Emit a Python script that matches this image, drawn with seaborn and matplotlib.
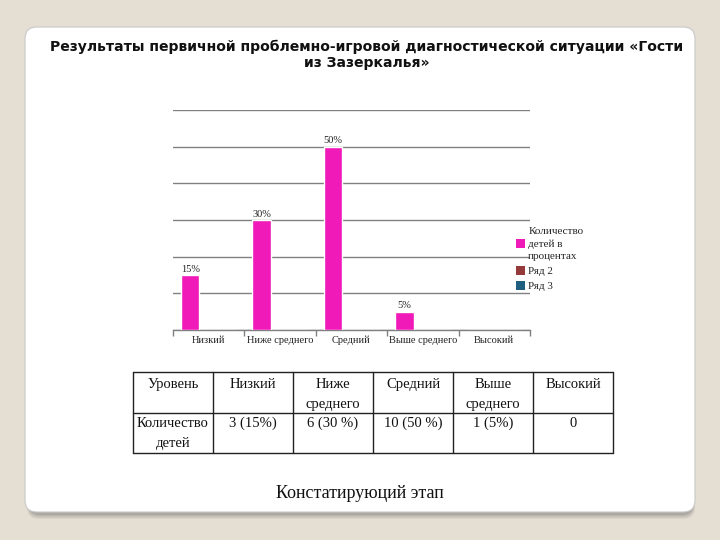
import matplotlib
matplotlib.use("Agg")
import matplotlib.pyplot as plt
import seaborn as sns
import pandas as pd
import numpy as np
from matplotlib.patches import FancyBboxPatch, Patch

# ---- data ----
categories = ['Низкий', 'Ниже среднего', 'Средний', 'Выше среднего', 'Высокий']
series_names = ['Количество\nдетей в\nпроцентах', 'Ряд 2', 'Ряд 3']
series1 = [15, 30, 50, 5, 0]
series2 = [0, 0, 0, 0, 0]
series3 = [0, 0, 0, 0, 0]
series_colors = ['#F01AB8', '#953A3A', '#1F5F80']

table_header = ['Уровень', 'Низкий', 'Ниже\nсреднего', 'Средний', 'Выше\nсреднего', 'Высокий']
table_row = ['Количество\nдетей', '3 (15%)', '6 (30 %)', '10 (50 %)', '1 (5%)', '0']

title = 'Результаты первичной проблемно-игровой диагностической ситуации «Гости\nиз Зазеркалья»'
footer = 'Констатируюций этап'

rows = []
for name, vals in zip(series_names, [series1, series2, series3]):
    for c, v in zip(categories, vals):
        rows.append({'cat': c, 'val': v, 'series': name})
df = pd.DataFrame(rows)

sns.set_theme(style='white')
plt.rcParams['font.family'] = ['DejaVu Sans']

W, H = 720, 540
fig = plt.figure(figsize=(7.2, 5.4), dpi=100)
fig.patch.set_facecolor('#E4DED3')

# card with shadow
def px_box(x0, y0_top, x1, y1_top, **kw):
    return FancyBboxPatch((x0 / 100, (H - y1_top) / 100), (x1 - x0) / 100, (y1_top - y0_top) / 100,
                          boxstyle='round,pad=0,rounding_size=0.12',
                          transform=fig.dpi_scale_trans, zorder=-10, **kw)

for k, a in enumerate([0.10, 0.12, 0.16, 0.22]):
    off = 7 - k * 1.3
    fig.patches.append(px_box(27 + k * 0.5, 30, 695 - k * 0.5, 512 + off, facecolor='#707070',
                              edgecolor='none', alpha=a))
fig.patches.append(px_box(25, 27, 695, 512, facecolor='white', edgecolor='#C9C9C9', linewidth=0.8))

# title
fig.text(367 / W, 1 - 55 / H, title, ha='center', va='center', fontsize=10.1, fontweight='bold',
         family='DejaVu Sans', linespacing=1.2, color='#111111')

# chart
ax = fig.add_axes([173 / W, 1 - 330 / H, (530 - 173) / W, (330 - 110) / H])
ax.set_facecolor('none')
sns.barplot(data=df, x='cat', y='val', hue='series', palette=series_colors, width=0.776,
            gap=0, dodge=True, ax=ax, legend=False, saturation=1, zorder=3)
ax.set_xlim(-0.5, 4.5)
ax.set_ylim(0, 60)
ax.set_yticks(np.arange(0, 61, 10))
ax.set_yticklabels([])
ax.tick_params(axis='y', length=0)
ax.grid(axis='y', color='#808080', linewidth=1)
ax.set_axisbelow(True)
for s in ['left', 'right', 'top']:
    ax.spines[s].set_visible(False)
ax.spines['bottom'].set_color('#808080')
ax.spines['bottom'].set_linewidth(1)
ax.set_xlabel('')
ax.set_ylabel('')
ax.set_xticks(range(len(categories)))
ax.set_xticklabels(categories, family='Liberation Serif', fontsize=7.5, color='#222222')
ax.tick_params(axis='x', which='major', length=0, pad=4)
ax.set_xticks(np.arange(-0.5, 4.6, 1), minor=True)
ax.tick_params(axis='x', which='minor', bottom=True, length=4, color='#808080', width=1)

labels = [f'{v}%' if v else '' for v in series1]
ax.bar_label(ax.containers[0], labels=labels, padding=1, fontsize=7.5,
             family='Liberation Serif', color='#222222')

handles = [Patch(facecolor=c, edgecolor='none') for c in series_colors]
leg = fig.legend(handles, series_names, loc='upper left', bbox_to_anchor=(516 / W, 1 - 227 / H),
                 frameon=False, prop={'family': 'Liberation Serif', 'size': 8},
                 handlelength=0.8, handleheight=0.8, handletextpad=0.3, labelspacing=0.45,
                 borderpad=0, borderaxespad=0)
for t in leg.get_texts():
    t.set_linespacing(1.45)

# table
tx0, tx1, ty_top, ty_bot, ty_mid = 133, 613, 372, 453, 413
tab = fig.add_axes([tx0 / W, 1 - ty_bot / H, (tx1 - tx0) / W, (ty_bot - ty_top) / H])
tab.set_xlim(tx0, tx1)
tab.set_ylim(ty_bot, ty_top)
tab.axis('off')
ncol = len(table_header)
cw = (tx1 - tx0) / ncol
for j in range(ncol + 1):
    tab.plot([tx0 + j * cw] * 2, [ty_top, ty_bot], color='#222222', lw=1, clip_on=False)
for yy in [ty_top, ty_mid, ty_bot]:
    tab.plot([tx0, tx1], [yy, yy], color='#222222', lw=1, clip_on=False)
for j in range(ncol):
    cx = tx0 + (j + 0.5) * cw
    tab.text(cx, ty_top + 6, table_header[j], ha='center', va='top', fontsize=10.5,
             family='Liberation Serif', linespacing=1.65, color='#111111')
    tab.text(cx, ty_mid + 4, table_row[j], ha='center', va='top', fontsize=10.5,
             family='Liberation Serif', linespacing=1.65, color='#111111')

fig.text(360 / W, 1 - 493 / H, footer, ha='center', va='center', fontsize=13,
         family='Liberation Serif', color='#111111')

fig.savefig('out.png', dpi=100, facecolor=fig.get_facecolor())
